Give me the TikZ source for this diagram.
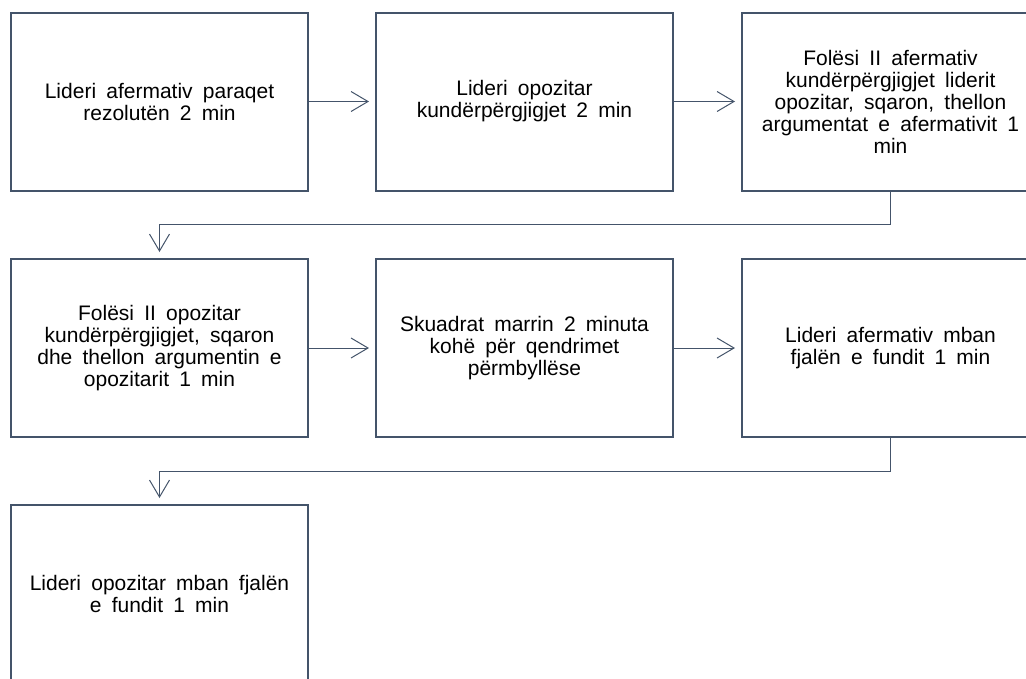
\documentclass[tikz,border=0pt]{standalone}
\usepackage{fontspec}
\setmainfont{Liberation Sans}[WordSpace=1.75]
\usetikzlibrary{arrows.meta}
\definecolor{edgecol}{HTML}{44546A}
\tikzset{
  stepbox/.style={draw=edgecol, line width=2pt, minimum width=297pt, minimum height=178pt,
    inner sep=0pt, outer sep=0pt, align=center, text=black,
    font=\fontsize{21}{22}\selectfont},
  conn/.style={draw=edgecol, line width=1pt, -{Straight Barb[length=17pt,width=20pt]}, shorten >=7pt}
}
\begin{document}
\begin{tikzpicture}[x=1pt,y=-1pt]
\useasboundingbox (0,0) rectangle (1026,678);
\clip (0,0) rectangle (1026,678);
\node[stepbox] (a1) at (159.5,101.5) {Lideri afermativ paraqet\\rezolutën 2 min};
\node[stepbox] (a2) at (524.5,101.5) {Lideri opozitar\\kundërpërgjigjet 2 min};
\node[stepbox] (a3) at (890.5,101.5) {Folësi II afermativ\\kundërpërgjigjet liderit\\opozitar, sqaron, thellon\\argumentat e afermativit 1\\min};
\node[stepbox] (b1) at (159.5,348) {Folësi II opozitar\\kundërpërgjigjet, sqaron\\dhe thellon argumentin e\\opozitarit 1 min};
\node[stepbox] (b2) at (524.5,348) {Skuadrat marrin 2 minuta\\kohë për qendrimet\\përmbyllëse};
\node[stepbox] (b3) at (890.5,348) {Lideri afermativ mban\\fjalën e fundit 1 min};
\node[stepbox] (c1) at (159.5,594) {Lideri opozitar mban fjalën\\e fundit 1 min};
\coordinate (k1) at (890.5,224.5);
\coordinate (k2) at (159.5,224.5);
\coordinate (k3) at (890.5,471);
\coordinate (k4) at (159.5,471);
\draw[conn] (a1.east) -- (a2.west);
\draw[conn] (a2.east) -- (a3.west);
\draw[conn] (a3.south) -- (k1) -- (k2) -- (b1.north);
\draw[conn] (b1.east) -- (b2.west);
\draw[conn] (b2.east) -- (b3.west);
\draw[conn] (b3.south) -- (k3) -- (k4) -- (c1.north);
\end{tikzpicture}
\end{document}
